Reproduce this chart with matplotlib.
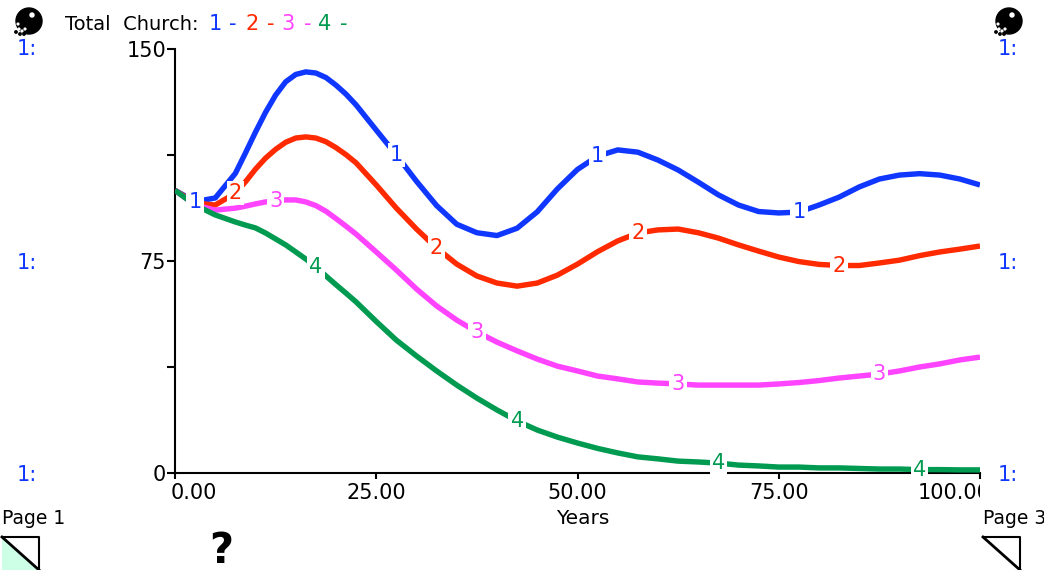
"""
plot.py
Total Church: four simulated runs over 100 years, stock-and-flow model style.
Output: out.png
"""
import matplotlib
matplotlib.use("Agg")
import matplotlib.pyplot as plt
from matplotlib.patches import Circle, Polygon
from matplotlib.transforms import Bbox, ScaledTranslation

# ── data ────────────────────────────────────────────────────────────────────
YEARS = [0, 2.5, 5, 7.5, 8.75, 10, 11.25, 12.5, 13.75, 15, 16.25, 17.5, 18.75, 20, 21.25, 22.5,
         25, 27.5, 30, 32.5, 35, 37.5, 40, 42.5, 45, 47.5,
         50, 52.5, 55, 57.5, 60, 62.5, 65, 67.5, 70, 72.5,
         75, 77.5, 80, 82.5, 85, 87.5, 90, 92.5, 95, 97.5, 100]

RUN_1 = [100, 96, 97.3, 106, 113.2, 120.6, 127.6, 133.7, 138.4, 141, 141.9, 141.5, 139.9, 137.2, 134, 130.2,
         121.3, 112.5, 103.2, 94.6, 88, 85, 84, 86.6, 92.4, 100.5,
         107.4, 112.1, 114.3, 113.5, 110.7, 107.2, 102.9, 98.4, 94.8, 92.5,
         92, 92.3, 94.8, 97.6, 101.2, 104, 105.4, 105.9, 105.4, 104, 101.9]
RUN_2 = [100, 95.5, 94.8, 99, 103, 107.5, 111.4, 114.5, 117, 118.5, 118.9, 118.5, 117.2, 115.1, 112.6, 109.7,
         101.9, 93.7, 86.3, 79.6, 73.9, 69.7, 67.2, 66.1, 67.2, 70,
         73.9, 78.3, 82.1, 84.9, 86, 86.3, 85, 83.1, 80.7, 78.5,
         76.4, 74.8, 73.8, 73.4, 73.4, 74.3, 75.3, 76.9, 78.2, 79.2, 80.3]
RUN_3 = [100, 94.8, 93, 93.7, 94.4, 95.2, 95.9, 96.3, 96.6, 96.6, 95.9, 94.6, 92.6, 90, 87.3, 84.5,
         78.2, 71.8, 65.1, 59.1, 54.1, 49.9, 46.3, 43.2, 40.3, 37.8,
         36.1, 34.3, 33.3, 32.2, 31.8, 31.5, 31.1, 31.1, 31.1, 31.1,
         31.5, 32, 32.7, 33.6, 34.3, 35, 36.1, 37.5, 38.6, 40, 41]
RUN_4 = [100, 94.8, 91.3, 88.8, 87.7, 86.7, 84.9, 82.8, 80.7, 78.2, 75.7, 72.9, 69.7, 66.6, 63.6, 60.5,
         53.6, 47, 41.4, 36.1, 31.1, 26.5, 22.3, 18.4, 15.2, 12.7,
         10.6, 8.7, 7.1, 5.7, 5, 4.2, 3.9, 3.5, 2.8, 2.5,
         2.1, 2.1, 1.8, 1.8, 1.6, 1.4, 1.4, 1.2, 1.2, 1.1, 1.1]

RUN_NAMES = ["1", "2", "3", "4"]
LABEL_YEARS = [[2.5, 27.5, 52.5, 77.5],
               [7.5, 32.5, 57.5, 82.5],
               [12.5, 37.5, 62.5, 87.5],
               [17.5, 42.5, 67.5, 92.5]]
X_TICKS = [0, 25, 50, 75, 100]
X_LABELS = ["0.00", "25.00", "50.00", "75.00", "100.00"]
Y_TICKS = [0, 37.5, 75, 112.5, 150]
Y_LABELS = ["0", "", "75", "", "150"]

# ── colours & layout ────────────────────────────────────────────────────────
BLUE = "#0f37ff"
RED = "#ff2a00"
MAGENTA = "#ff44ff"
GREEN = "#009a50"
COLORS = [BLUE, RED, MAGENTA, GREEN]
W, H = 1044, 570
FS = 15

plt.rcParams["font.family"] = ["DejaVu Sans"]
fig = plt.figure(figsize=(W / 100, H / 100), dpi=100)
ax = fig.add_axes([175 / W, (H - 473) / H, 805 / W, 424 / H])

# page furniture drawn in pixel coordinates
top = fig.add_axes([0, 0, 1, 1], zorder=-1)
top.axis("off")

# ── curves ──────────────────────────────────────────────────────────────────
for i, run in enumerate([RUN_1, RUN_2, RUN_3, RUN_4]):
    ax.plot(YEARS, run, color=COLORS[i], lw=3.9, solid_capstyle="butt",
            solid_joinstyle="round", zorder=3 + i * 0.1)
    # run number sits on the curve every 25 years, staggered by run
    for year in LABEL_YEARS[i]:
        ax.text(year, run[YEARS.index(year)], RUN_NAMES[i], color=COLORS[i], fontsize=FS,
                ha="center", va="center", zorder=5, clip_on=False,
                bbox=dict(facecolor="white", edgecolor="none",
                          boxstyle="square,pad=0.1"))

ax.set_xlim(0, 100)
ax.set_ylim(0, 150)
for side in ["top", "right"]:
    ax.spines[side].set_visible(False)
for side in ["left", "bottom"]:
    ax.spines[side].set_linewidth(1.5)

ax.set_yticks(Y_TICKS)
ax.set_yticklabels(Y_LABELS, fontsize=FS)
ax.set_xticks(X_TICKS)
ax.set_xticklabels(X_LABELS, fontsize=FS)
ax.tick_params(axis="y", length=5.5, width=1.5, pad=1)
ax.tick_params(axis="x", length=4.5, width=1.5, pad=3)
ax.set_xlabel("Years", fontsize=FS - 0.5, labelpad=5)
ax.xaxis.set_label_coords((583 - 175) / 805, -36 / 424)

# first label hugs the axis, last one is cut off by the plot edge
labels = ax.get_xticklabels()
labels[0].set_ha("left")
labels[0].set_transform(labels[0].get_transform()
                        + ScaledTranslation(-4 / 100, 0, fig.dpi_scale_trans))
labels[-1].set_ha("left")
labels[-1].set_transform(labels[-1].get_transform()
                         + ScaledTranslation(-62 / 100, 0, fig.dpi_scale_trans))
labels[-1].set_clip_box(Bbox([[0, 0], [980, H]]))
labels[-1].set_clip_on(True)

# ── header ──────────────────────────────────────────────────────────────────
top.text(65, 24, "Total  Church:", fontsize=FS - 1, va="center")
for i, (x_num, x_dash) in enumerate([(215, 233), (252, 271), (288, 308), (325, 344)]):
    top.text(x_num, 24, RUN_NAMES[i], color=COLORS[i], fontsize=FS, ha="center", va="center")
    top.text(x_dash, 24, "-", color=COLORS[i], fontsize=FS, ha="center", va="center")

for x in [17, 998]:
    for y in [49, 263, 475]:
        top.text(x, y, "1:", color=BLUE, fontsize=FS, va="center")

# ball icons
for cx in [28, 1008]:
    top.add_patch(Circle((cx + 1, 21), 13, color="black"))
    top.add_patch(Circle((cx + 4, 15), 2, color="white"))
    for dx, dy in [(-9, 9), (-6, 11), (-3, 9), (-10, 4)]:
        top.add_patch(Circle((cx + dx, 20 + dy), 0.9, color="white"))
    for dx, dy in [(-12, 12), (-8, 14), (-4, 14)]:
        top.add_patch(Circle((cx + dx, 20 + dy), 1.2, color="black"))

# ── page controls ───────────────────────────────────────────────────────────
top.text(2, 518, "Page 1", fontsize=FS - 1.5, va="center")
top.text(983, 518, "Page 3", fontsize=FS - 1.5, va="center")
top.text(221, 551, "?", fontsize=30, fontweight="bold", ha="center", va="center")

top.add_patch(Polygon([(2, 537), (39, 570), (2, 570)], closed=True,
                      facecolor="#ccffe6", edgecolor="none"))
top.plot([2, 39, 39], [537, 537, 570], color="black", lw=1.5)
top.plot([2, 39], [537, 570], color="black", lw=2)
top.plot([983, 1020, 1020], [537, 537, 570], color="black", lw=1.5)
top.plot([983, 1020], [537, 570], color="black", lw=2)
top.set_xlim(0, W)
top.set_ylim(H, 0)

# ── save ────────────────────────────────────────────────────────────────────
fig.savefig("out.png", dpi=100)
